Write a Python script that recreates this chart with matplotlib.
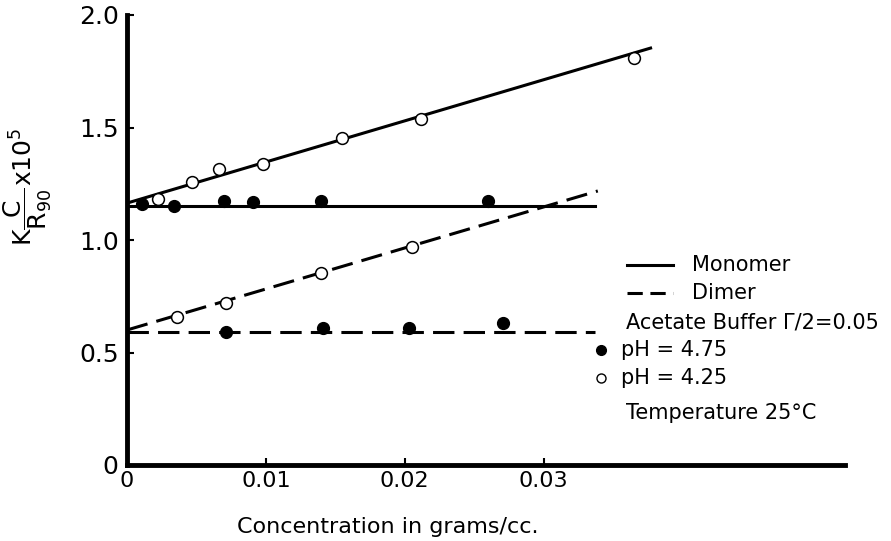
import matplotlib.pyplot as plt

# pH 4.25 (open circles) – monomer
mono_open_x = [0.0022, 0.0047, 0.0066, 0.0098, 0.0155, 0.0212, 0.0365]
mono_open_y = [1.182, 1.258, 1.316, 1.338, 1.453, 1.538, 1.809]
# pH 4.75 (filled circles) – monomer
mono_fill_x = [0.0011, 0.0034, 0.0070, 0.0091, 0.0140, 0.0260]
mono_fill_y = [1.160, 1.151, 1.173, 1.169, 1.173, 1.173]
# pH 4.25 (open circles) – dimer
dim_open_x = [0.0036, 0.0071, 0.0140, 0.0205]
dim_open_y = [0.658, 0.720, 0.853, 0.969]
# pH 4.75 (filled circles) – dimer
dim_fill_x = [0.0071, 0.0141, 0.0203, 0.0271]
dim_fill_y = [0.591, 0.609, 0.609, 0.631]

# drawn lines (end points)
mono_open_line_x = [0.0, 0.0377]
mono_open_line_y = [1.164, 1.853]
mono_fill_line_x = [0.0, 0.0337]
mono_fill_line_y = [1.151, 1.151]
dim_open_line_x = [0.0, 0.0339]
dim_open_line_y = [0.600, 1.218]
dim_fill_line_x = [0.0, 0.0337]
dim_fill_line_y = [0.591, 0.591]

xticks = [0, 0.01, 0.02, 0.03]
xtick_labels = ["0", "0.01", "0.02", "0.03"]
yticks = [0, 0.5, 1.0, 1.5, 2.0]
ytick_labels = ["0", "0.5", "1.0", "1.5", "2.0"]

plt.rcParams["font.family"] = ["DejaVu Sans"]

fig = plt.figure(figsize=(8.91, 5.41), dpi=100)
ax = fig.add_axes([127 / 891, 76 / 541, 718 / 891, 450 / 541])

dash = (7, 3)
lw = 2.2

# fitted lines
ax.plot(mono_open_line_x, mono_open_line_y, color="black", lw=lw, zorder=2)
ax.plot(mono_fill_line_x, mono_fill_line_y, color="black", lw=lw, zorder=2)
ax.plot(dim_open_line_x, dim_open_line_y, color="black", lw=lw, dashes=dash, zorder=2)
ax.plot(dim_fill_line_x, dim_fill_line_y, color="black", lw=lw, dashes=dash, zorder=2)

# data points
ms = 8.5
ax.plot(mono_open_x, mono_open_y, "o", ms=ms, mfc="white", mec="black", mew=1.1, zorder=3)
ax.plot(dim_open_x, dim_open_y, "o", ms=ms, mfc="white", mec="black", mew=1.1, zorder=3)
ax.plot(mono_fill_x, mono_fill_y, "o", ms=ms, mfc="black", mec="black", zorder=3)
ax.plot(dim_fill_x, dim_fill_y, "o", ms=ms, mfc="black", mec="black", zorder=3)

# axes styling
ax.set_xlim(0, 0.0517)
ax.set_ylim(0, 2.0)
for s in ["top", "right"]:
    ax.spines[s].set_visible(False)
for s in ["left", "bottom"]:
    ax.spines[s].set_linewidth(3.5)
ax.set_xticks(xticks)
ax.set_xticklabels(xtick_labels, fontsize=16)
ax.set_yticks(yticks)
ax.set_yticklabels(ytick_labels, fontsize=18)
ax.tick_params(axis="both", direction="in", length=5, width=1.5)
ax.tick_params(axis="x", pad=4)
ax.tick_params(axis="y", pad=6)

ax.set_xlabel("Concentration in grams/cc.", fontsize=16, va="center")
ax.xaxis.set_label_coords((388 - 127) / 718, (465 - 527) / 450)
fig.text(28 / 891, 1 - 187 / 541,
         r"K$\dfrac{\mathrm{C}}{\mathrm{R}_{90}}$x10$^5$",
         rotation=90, ha="center", va="center", fontsize=18)

# legend block (drawn by hand, in axes coordinates)
def ax_pt(px, py):
    return (px - 127) / 718, (465 - py) / 450

fs = 15
x0, y0 = ax_pt(627, 265)
x1, _ = ax_pt(673, 265)
ax.plot([x0, x1], [y0, y0], color="black", lw=lw, transform=ax.transAxes, clip_on=False)
tx, _ = ax_pt(692, 265)
ax.text(tx, y0, "Monomer", transform=ax.transAxes, fontsize=fs, va="center")

x0, y0 = ax_pt(627, 293)
ax.plot([x0, x1], [y0, y0], color="black", lw=lw, dashes=(5, 2.5), transform=ax.transAxes, clip_on=False)
ax.text(tx, y0, "Dimer", transform=ax.transAxes, fontsize=fs, va="center")

tx2, y0 = ax_pt(626, 322)
ax.text(tx2, y0, "Acetate Buffer Γ/2=0.05", transform=ax.transAxes, fontsize=fs, va="center")

mx, y0 = ax_pt(601, 350)
ax.plot([mx], [y0], "o", ms=7, mfc="black", mec="black", transform=ax.transAxes, clip_on=False)
tx3, _ = ax_pt(621, 350)
ax.text(tx3, y0, "pH = 4.75", transform=ax.transAxes, fontsize=fs, va="center")

mx, y0 = ax_pt(601, 378)
ax.plot([mx], [y0], "o", ms=6.5, mfc="white", mec="black", mew=1.0, transform=ax.transAxes, clip_on=False)
ax.text(tx3, y0, "pH = 4.25", transform=ax.transAxes, fontsize=fs, va="center")

_, y0 = ax_pt(626, 413)
ax.text(tx2, y0, "Temperature 25°C", transform=ax.transAxes, fontsize=fs, va="center")

fig.savefig("out.png", dpi=100)
plt.close(fig)
